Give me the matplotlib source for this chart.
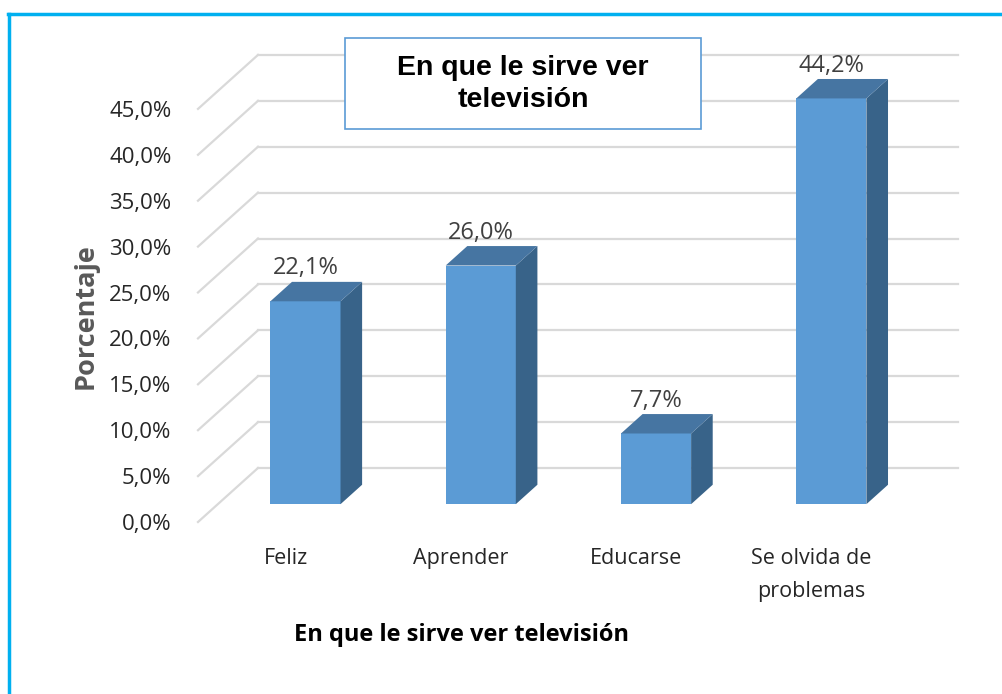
import matplotlib as mpl
mpl.use('Agg')
import matplotlib.pyplot as plt
from matplotlib import font_manager
from matplotlib.patches import Polygon, Rectangle
from matplotlib.lines import Line2D

# data
categories = ['Feliz', 'Aprender', 'Educarse', 'Se olvida de\nproblemas']
values = [22.1, 26.0, 7.7, 44.2]
value_labels = ['22,1%', '26,0%', '7,7%', '44,2%']
yticks = [0, 5, 10, 15, 20, 25, 30, 35, 40, 45]
ytick_labels = ['%.1f%%' % t for t in yticks]
ytick_labels = [s.replace('.', ',') for s in ytick_labels]

title = 'En que le sirve ver\ntelevisión'
xlabel = 'En que le sirve ver televisión'
ylabel = 'Porcentaje'

# pick a narrow font if there is one (the original looks like Calibri)
names = set(f.name for f in font_manager.fontManager.ttflist)
narrow = 'Liberation Sans Narrow' if 'Liberation Sans Narrow' in names else 'Open Sans'

W, H = 1003, 694
fig = plt.figure(figsize=(W / 100, H / 100), dpi=100)

# axes placed in pixels: front floor edge at y=522, x from 198 to 958
px_cat = 175.3
px_pct = 9.18
left, right, bottom, top = 198, 958, 522, 40
ax = fig.add_axes([left / W, (H - bottom) / H, (right - left) / W, (bottom - top) / H])
ax.set_xlim(-0.5, -0.5 + (right - left) / px_cat)
ax.set_ylim(0, (bottom - top) / px_pct)
for s in ax.spines.values():
    s.set_visible(False)

# depth vector of the floor (oblique 3d look), in data units
dx = 60 / px_cat
dy = 54 / px_pct
f0, f1 = 0.33, 0.69   # bar front / back depth fraction
bw = 0.40             # bar width in category units

grid_col = '#D9D9D9'
xmax = ax.get_xlim()[1]
for t in yticks:
    ax.plot([-0.5, -0.5 + dx], [t, t + dy], color=grid_col, lw=1.6, clip_on=False, zorder=1)
    ax.plot([-0.5 + dx, xmax], [t + dy, t + dy], color=grid_col, lw=1.6, clip_on=False, zorder=1)

front_col = '#5B9BD5'
top_col = '#4675A2'
side_col = '#386389'
for i, v in enumerate(values):
    x0 = i - bw / 2 + f0 * dx
    x1 = i + bw / 2 + f0 * dx
    y0 = f0 * dy
    ox = (f1 - f0) * dx
    oy = (f1 - f0) * dy
    ax.add_patch(Polygon([(x0, y0), (x1, y0), (x1, y0 + v), (x0, y0 + v)],
                         closed=True, fc=front_col, ec='none', zorder=3))
    ax.add_patch(Polygon([(x1, y0), (x1 + ox, y0 + oy), (x1 + ox, y0 + oy + v), (x1, y0 + v)],
                         closed=True, fc=side_col, ec='none', zorder=3))
    ax.add_patch(Polygon([(x0, y0 + v), (x1, y0 + v), (x1 + ox, y0 + oy + v), (x0 + ox, y0 + oy + v)],
                         closed=True, fc=top_col, ec='none', zorder=3))
    ax.annotate(value_labels[i], (i + f0 * dx, y0 + oy + v), xytext=(0, 1),
                textcoords='offset points', ha='center', va='bottom',
                fontsize=17, color='#404040', family=narrow, zorder=4)

ax.set_yticks(yticks)
ax.set_yticklabels(ytick_labels, fontsize=16, color='#262626', family=narrow)
ax.set_xticks(range(len(categories)))
ax.set_xticklabels(categories, fontsize=15.5, color='#262626', family=narrow, linespacing=1.75)
ax.tick_params(axis='y', length=0, pad=19)
ax.tick_params(axis='x', length=0, pad=19)

fig.text(86 / W, 1 - 316 / H, ylabel, rotation=90, ha='center', va='center',
         fontsize=19.5, fontweight='bold', color='#595959', family=narrow)
fig.text(462 / W, 1 - 635 / H, xlabel, ha='center', va='center',
         fontsize=17, fontweight='bold', color='black', family=narrow)

# title box
fig.patches.append(Rectangle((345 / W, 1 - 129 / H), 356 / W, 91 / H, transform=fig.transFigure,
                             fc='white', ec='#5B9BD5', lw=1.2, zorder=5))
fig.text(523 / W, 1 - 84 / H, title, ha='center', va='center', fontsize=20.5,
         fontweight='bold', family='Liberation Sans', linespacing=1.3, zorder=6)

# outer cyan frame (cut off on the right and bottom)
fig.add_artist(Line2D([9.5 / W, 9.5 / W], [0, 1 - 13.5 / H], color='#00B0F0', lw=2.5))
fig.add_artist(Line2D([8 / W, 1], [1 - 13.5 / H, 1 - 13.5 / H], color='#00B0F0', lw=2.5))

plt.savefig('out.png', dpi=100)
